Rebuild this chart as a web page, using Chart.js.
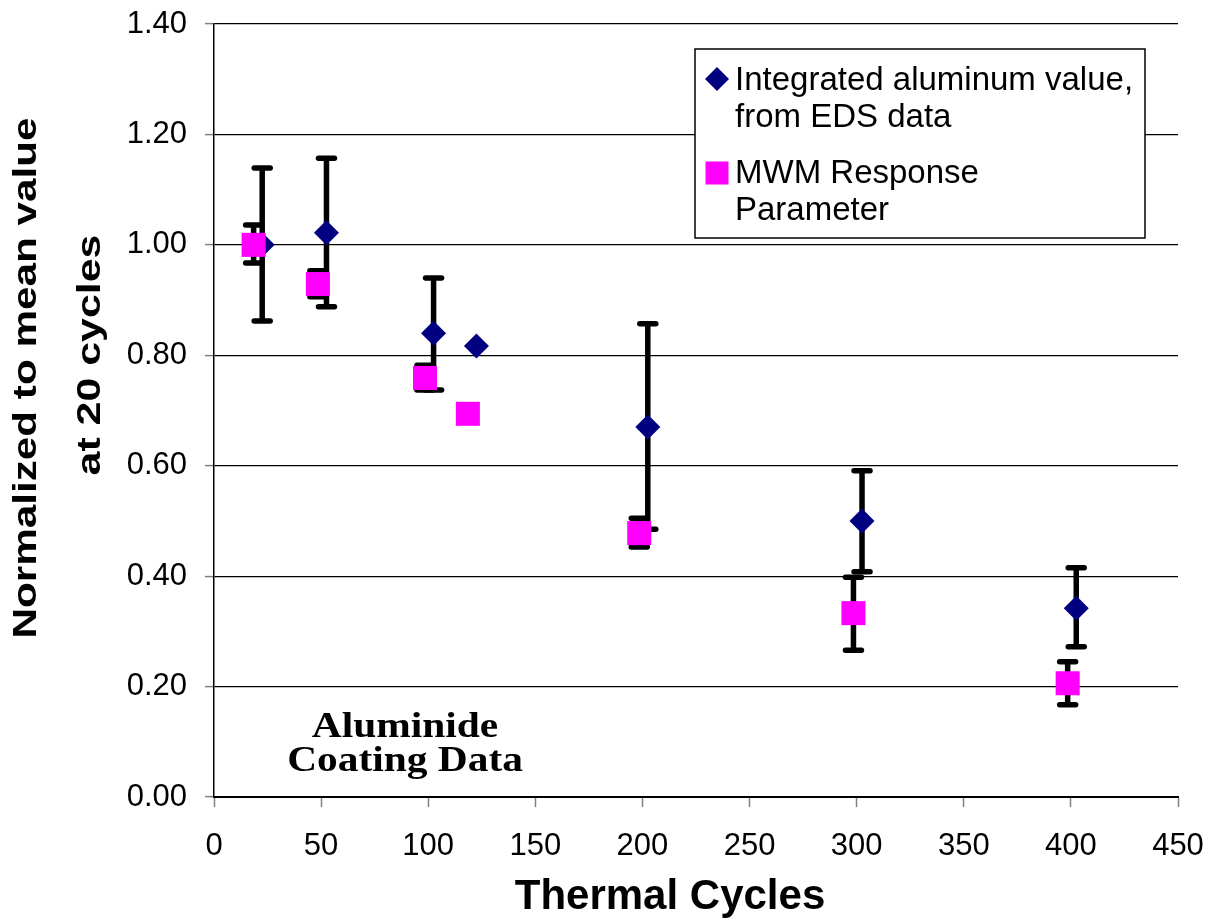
<!DOCTYPE html>
<html>
<head>
<meta charset="utf-8">
<script src="https://cdn.jsdelivr.net/npm/chart.js@4"></script>
<style>
  body { margin: 0; background: #fff; }
  canvas { display: block; }
</style>
</head>
<body>
<canvas id="coatingChart" width="1209" height="920"></canvas>
<script>
// thermal cycles (points are drawn slightly offset, as in the original)
const edsCycles = [22.5, 52.5, 102.5, 122.5, 202.5, 302.5, 402.5]
const edsValues = [1.00, 1.022, 0.84, 0.817, 0.67, 0.50, 0.342]
const edsHigh = [1.139, 1.157, 0.94, null, 0.857, 0.591, 0.415]
const edsLow = [0.862, 0.888, 0.737, null, 0.485, 0.408, 0.272]

const mwmCycles = [18.5, 48.5, 98.5, 118.5, 198.5, 298.5, 398.5]
const mwmValues = [1.00, 0.929, 0.759, 0.694, 0.478, 0.333, 0.206]
const mwmHigh = [1.036, 0.953, 0.782, null, 0.505, 0.398, 0.245]
const mwmLow = [0.967, 0.906, 0.737, null, 0.453, 0.266, 0.167]

const legendLabels = [
  ['Integrated aluminum value,', 'from EDS data'],
  ['MWM Response', 'Parameter']
]
const yTitleLines = ['Normalized to mean value', 'at 20 cycles']
const xTitle = 'Thermal Cycles'
const noteLines = ['Aluminide', 'Coating Data']

const SANS = '"Liberation Sans", Arial, sans-serif'
const SERIF = '"Liberation Serif", "Times New Roman", serif'
const NAVY = '#000080'
const PINK = '#ff00ff'

function toPoints(xs, ys) {
  return xs.map((x, i) => ({ x: x, y: ys[i] }))
}

function drawErrorBars(chart, xs, highs, lows) {
  const { ctx, scales } = chart
  ctx.save()
  ctx.strokeStyle = '#000'
  ctx.lineWidth = 5.5
  ctx.lineCap = 'round'
  xs.forEach((x, i) => {
    if (highs[i] == null) return
    const px = scales.x.getPixelForValue(x)
    const top = scales.y.getPixelForValue(highs[i])
    const bot = scales.y.getPixelForValue(lows[i])
    ctx.beginPath()
    ctx.moveTo(px, top)
    ctx.lineTo(px, bot)
    ctx.moveTo(px - 8, top)
    ctx.lineTo(px + 8, top)
    ctx.moveTo(px - 8, bot)
    ctx.lineTo(px + 8, bot)
    ctx.stroke()
  })
  ctx.restore()
}

function stretchedText(ctx, text, x, y, sx, rotate) {
  ctx.save()
  ctx.translate(x, y)
  if (rotate) ctx.rotate(-Math.PI / 2)
  ctx.scale(sx, 1)
  ctx.fillText(text, 0, 0)
  ctx.restore()
}

const errorBarPlugin = {
  id: 'errorBars',
  beforeDatasetsDraw(chart) {
    drawErrorBars(chart, edsCycles, edsHigh, edsLow)
    drawErrorBars(chart, mwmCycles, mwmHigh, mwmLow)
  }
}

const extrasPlugin = {
  id: 'extras',
  afterDraw(chart) {
    const ctx = chart.ctx
    ctx.save()
    ctx.fillStyle = '#000'
    ctx.textAlign = 'center'
    ctx.textBaseline = 'alphabetic'

    // axis titles
    ctx.font = 'bold 33px ' + SANS
    stretchedText(ctx, yTitleLines[0], 36, 378, 1.28, true)
    stretchedText(ctx, yTitleLines[1], 100, 355, 1.3, true)
    ctx.font = 'bold 42px ' + SANS
    ctx.fillText(xTitle, 670, 909)

    // note in the lower left
    ctx.font = 'bold 36px ' + SERIF
    stretchedText(ctx, noteLines[0], 405, 737, 1.15, false)
    stretchedText(ctx, noteLines[1], 405, 771, 1.15, false)

    // legend box
    ctx.fillStyle = '#fff'
    ctx.fillRect(695, 49, 450, 189)
    ctx.strokeStyle = '#000'
    ctx.lineWidth = 1.5
    ctx.strokeRect(695, 49, 450, 189)

    ctx.fillStyle = NAVY
    ctx.beginPath()
    ctx.moveTo(717, 67)
    ctx.lineTo(729, 79)
    ctx.lineTo(717, 91)
    ctx.lineTo(705, 79)
    ctx.closePath()
    ctx.fill()

    ctx.fillStyle = PINK
    ctx.fillRect(705.5, 161.5, 23, 23)

    ctx.fillStyle = '#000'
    ctx.textAlign = 'left'
    ctx.font = '33px ' + SANS
    ctx.fillText(legendLabels[0][0], 735, 90)
    ctx.fillText(legendLabels[0][1], 735, 127)
    ctx.fillText(legendLabels[1][0], 735, 183)
    ctx.fillText(legendLabels[1][1], 735, 220)
    ctx.restore()
  }
}

const canvas = document.getElementById('coatingChart')
const chart = new Chart(canvas.getContext('2d'), {
  type: 'scatter',
  data: {
    datasets: [
      {
        label: legendLabels[1].join(' '),
        data: toPoints(mwmCycles, mwmValues),
        pointStyle: 'rect',
        pointRadius: 17,
        backgroundColor: PINK,
        borderColor: PINK,
        borderWidth: 0,
        order: 0
      },
      {
        label: legendLabels[0].join(' '),
        data: toPoints(edsCycles, edsValues),
        pointStyle: 'rectRot',
        pointRadius: 12.5,
        backgroundColor: NAVY,
        borderColor: NAVY,
        borderWidth: 0,
        order: 1
      }
    ]
  },
  options: {
    responsive: false,
    animation: false,
    layout: { padding: { top: 24, right: 31, left: 0, bottom: 0 } },
    plugins: {
      legend: { display: false },
      tooltip: { enabled: false }
    },
    scales: {
      x: {
        type: 'linear',
        min: 0,
        max: 450,
        afterFit: scale => {
          scale.height = 123
          scale.paddingLeft = 0
          scale.paddingRight = 0
        },
        ticks: {
          stepSize: 50,
          color: '#000',
          padding: 21,
          font: { family: SANS, size: 31 }
        },
        grid: {
          drawOnChartArea: false,
          drawTicks: true,
          tickLength: 10,
          tickColor: '#808080',
          tickWidth: 1.5
        },
        border: { display: true, color: '#000', width: 2 }
      },
      y: {
        min: 0,
        max: 1.4,
        afterFit: scale => {
          scale.width = 214
          scale.paddingTop = 0
          scale.paddingBottom = 0
        },
        ticks: {
          stepSize: 0.2,
          color: '#000',
          padding: 18,
          font: { family: SANS, size: 31 },
          callback: v => v.toFixed(2)
        },
        grid: {
          color: '#000',
          lineWidth: 1.2,
          tickLength: 9,
          tickColor: '#808080',
          tickWidth: 1.5
        },
        border: { display: true, color: '#000', width: 1.5 }
      }
    }
  },
  plugins: [errorBarPlugin, extrasPlugin]
})
</script>
</body>
</html>
